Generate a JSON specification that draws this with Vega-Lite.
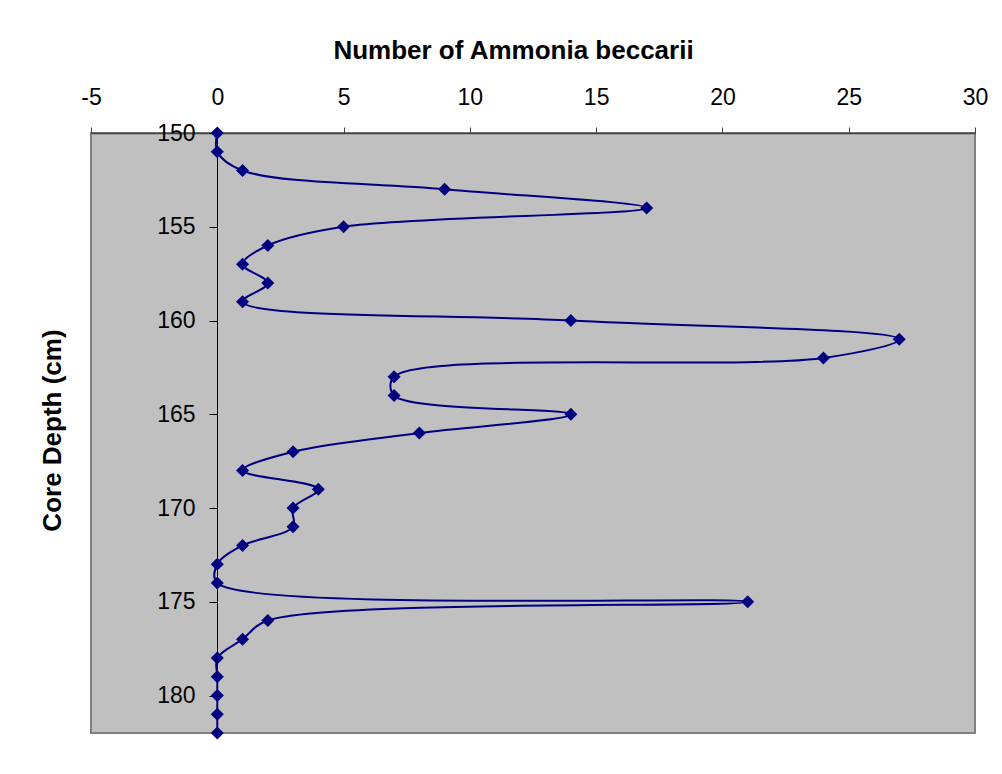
{
  "$schema": "https://vega.github.io/schema/vega-lite/v6.json",
  "width": 884,
  "height": 600,
  "autosize": "none",
  "padding": {"left": 91, "top": 133, "right": 27, "bottom": 41},
  "background": "white",
  "config": {
    "font": "Liberation Sans",
    "view": {"fill": "#C0C0C0", "stroke": "#808080", "strokeWidth": 2}
  },
  "data": {
    "values": [
      {"depth": 150, "count": 0},
      {"depth": 151, "count": 0},
      {"depth": 152, "count": 1},
      {"depth": 153, "count": 9},
      {"depth": 154, "count": 17},
      {"depth": 155, "count": 5},
      {"depth": 156, "count": 2},
      {"depth": 157, "count": 1},
      {"depth": 158, "count": 2},
      {"depth": 159, "count": 1},
      {"depth": 160, "count": 14},
      {"depth": 161, "count": 27},
      {"depth": 162, "count": 24},
      {"depth": 163, "count": 7},
      {"depth": 164, "count": 7},
      {"depth": 165, "count": 14},
      {"depth": 166, "count": 8},
      {"depth": 167, "count": 3},
      {"depth": 168, "count": 1},
      {"depth": 169, "count": 4},
      {"depth": 170, "count": 3},
      {"depth": 171, "count": 3},
      {"depth": 172, "count": 1},
      {"depth": 173, "count": 0},
      {"depth": 174, "count": 0},
      {"depth": 175, "count": 21},
      {"depth": 176, "count": 2},
      {"depth": 177, "count": 1},
      {"depth": 178, "count": 0},
      {"depth": 179, "count": 0},
      {"depth": 180, "count": 0},
      {"depth": 181, "count": 0},
      {"depth": 182, "count": 0}
    ]
  },
  "encoding": {
    "x": {
      "field": "count",
      "type": "quantitative",
      "scale": {"domain": [-5, 30], "nice": false, "zero": false},
      "axis": {
        "orient": "top",
        "title": "Number of Ammonia beccarii",
        "values": [-5, 0, 5, 10, 15, 20, 25, 30],
        "labelExpr": "replace(datum.label, '\u2212', '-')",
        "grid": false,
        "domainColor": "#404040",
        "domainWidth": 1.5,
        "tickColor": "#404040",
        "tickSize": 6,
        "labelFontSize": 23,
        "labelColor": "black",
        "labelPadding": 23,
        "labelBaseline": "alphabetic",
        "labelFlush": false,
        "labelOverlap": false,
        "titleFontSize": 26,
        "titleFontWeight": "bold",
        "titleColor": "black",
        "titleY": -75,
        "titleX": 422,
        "titleBaseline": "alphabetic"
      }
    },
    "y": {
      "field": "depth",
      "type": "quantitative",
      "scale": {"domain": [150, 182], "reverse": true, "nice": false, "zero": false},
      "axis": {
        "orient": "left",
        "offset": -126,
        "title": "Core Depth (cm)",
        "values": [150, 155, 160, 165, 170, 175, 180],
        "grid": false,
        "domainColor": "black",
        "tickColor": "black",
        "tickSize": 8,
        "labelFontSize": 23,
        "labelColor": "black",
        "labelPadding": 14,
        "labelOverlap": false,
        "titleFontSize": 26,
        "titleFontWeight": "bold",
        "titleColor": "black",
        "titleX": -157,
        "titleY": 297,
        "titleBaseline": "alphabetic"
      }
    }
  },
  "layer": [
    {
      "mark": {"type": "line", "interpolate": "catmull-rom", "color": "#000080", "strokeWidth": 2, "clip": false},
      "encoding": {"order": {"field": "depth", "type": "quantitative"}}
    },
    {
      "mark": {"type": "point", "shape": "diamond", "filled": true, "color": "#000080", "opacity": 1, "size": 170, "clip": false}
    }
  ]
}
